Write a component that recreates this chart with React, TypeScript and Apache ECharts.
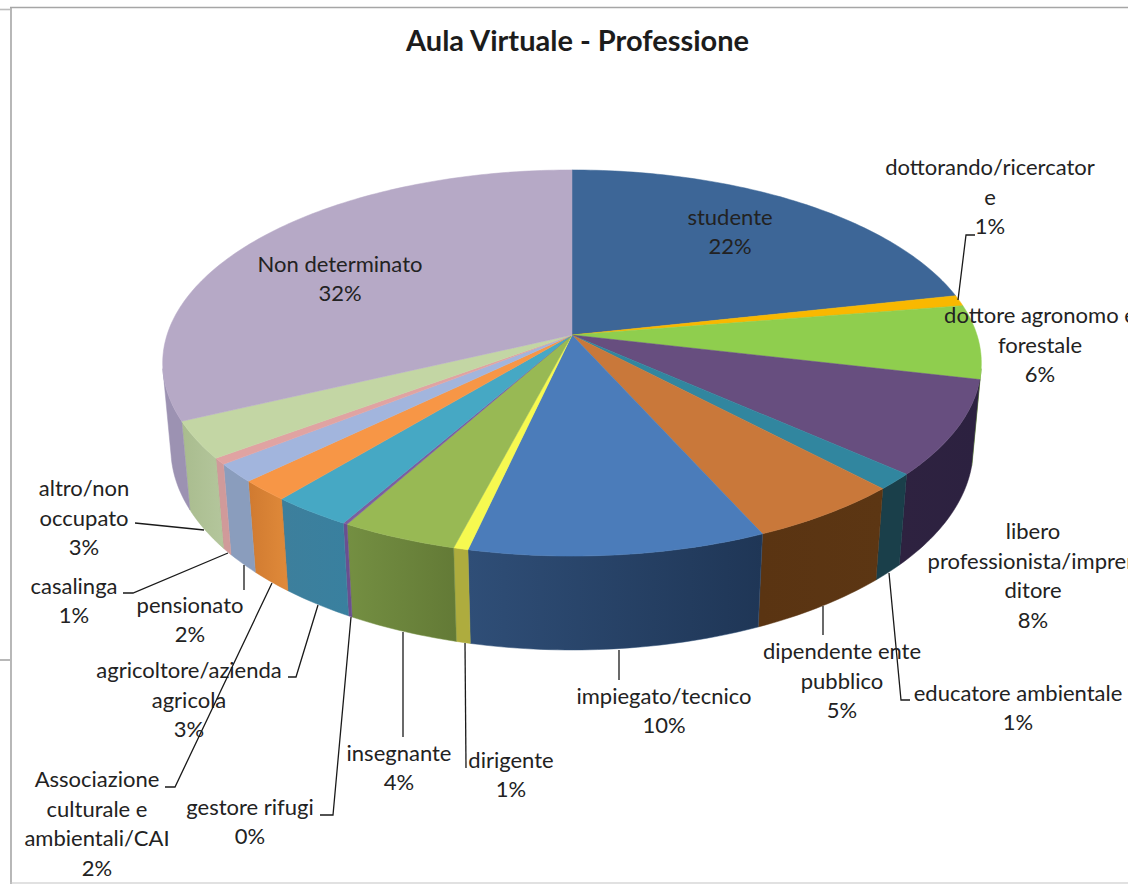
import React, { useEffect, useRef } from "react";
import * as echarts from "echarts";

const TITLE = "Aula Virtuale - Professione";
const professions = [
  "studente",
  "dottorando/ricercator\ne",
  "dottore agronomo e\nforestale",
  "libero\nprofessionista/impren\nditore",
  "educatore ambientale",
  "dipendente ente\npubblico",
  "impiegato/tecnico",
  "dirigente",
  "insegnante",
  "gestore rifugi",
  "agricoltore/azienda\nagricola",
  "Associazione\nculturale e\nambientali/CAI",
  "pensionato",
  "casalinga",
  "altro/non\noccupato",
  "Non determinato",
];
const shares = [21.56, 0.9, 6.2, 7.93, 1.37, 5.35, 10.23, 0.5, 4.02, 0.15, 2.78, 1.77, 1.55, 0.54, 3.11, 32.04];

const topColors = ["#3d6697", "#f9b800", "#8fce4e", "#674e7f", "#31869f", "#c9783a", "#4b7cba", "#f6f950", "#98b954", "#7b5fa0", "#46a8c4", "#f79646", "#a2b5dd", "#e0a3a2", "#c3d6a4", "#b6a9c6"];
const wallColors = [
  ["#2f4e77", "#2f4e77"], ["#b88a00", "#b88a00"], ["#6a9a38", "#6a9a38"], ["#2e2240", "#2c2140"],
  ["#1a3f4a", "#1a3f4a"], ["#5a3412", "#5c3613"], ["#2f4e77", "#1f3656"], ["#aeac3e", "#aeac3e"],
  ["#748f42", "#637a36"], ["#6a4f90", "#6a4f90"], ["#3d7f9c", "#39809f"], ["#d07a30", "#e08a3a"],
  ["#8a9dbd", "#8a9dbd"], ["#d09a9a", "#d09a9a"], ["#a9bc8e", "#b4c69c"], ["#9c92b2", "#9c92b2"],
];
// label block centres, in page pixels
const labelCentres = [
  [730, 231], [990, 196], [1040, 344], [1033, 575], [1018, 707], [842, 680], [664, 710], [511, 774],
  [399, 767], [250, 821], [189, 699], [97, 823], [190, 619], [74, 600], [84, 517], [340, 278],
];
const leaders: (number[][] | null)[] = [
  null,
  [[958, 300], [966, 235], [975, 235]],
  null,
  null,
  [[889, 573], [901, 700], [910, 700]],
  [[823, 606], [823, 635]],
  [[619, 650], [619, 680]],
  [[465, 643], [466, 768]],
  [[403, 632], [403, 737]],
  [[351, 617], [333, 815], [320, 815]],
  [[318, 605], [296, 677], [288, 677]],
  [[272, 583], [175, 787], [165, 787]],
  [[244, 565], [244, 590]],
  [[228, 553], [133, 593], [123, 593]],
  [[204, 530], [135, 523]],
  null,
];

const CX = 572, CY = 335, RX = 405, RY = 189, PERSP = 0.145, DEPTH = 86.6, DEPTH_PERSP = 0.02;
const FONT = "Lato";
const DEG = Math.PI / 180;

function project(theta: number, z: number): number[] {
  const s = Math.sin(theta), c = Math.cos(theta);
  const d = 1 + PERSP * c + DEPTH_PERSP * z;
  return [CX + (RX * s) / d, CY + (-RY * c + DEPTH * z) / d];
}
function arc(a: number, b: number, z: number): number[][] {
  const n = Math.max(2, Math.ceil(Math.abs(b - a) / DEG));
  const out: number[][] = [];
  for (let i = 0; i <= n; i++) out.push(project(a + ((b - a) * i) / n, z));
  return out;
}

const total = shares.reduce((p, v) => p + v, 0);
function sliceAngles(i: number): number[] {
  let sum = 0;
  for (let j = 0; j < i; j++) sum += shares[j];
  return [(sum / total) * 2 * Math.PI, ((sum + shares[i]) / total) * 2 * Math.PI];
}

function renderWall(params: any) {
  const i = params.dataIndex;
  const [a0, a1] = sliceAngles(i);
  const a = Math.max(a0, 100 * DEG), b = Math.min(a1, 260 * DEG);
  if (b <= a) return { type: "group", children: [] };
  const pts = arc(a, b, 0).concat(arc(b, a, 1));
  const fill = new echarts.graphic.LinearGradient(0, 0, 1, 0, [
    { offset: 0, color: wallColors[i][0] },
    { offset: 1, color: wallColors[i][1] },
  ]);
  return { type: "polygon", shape: { points: pts }, style: { fill, stroke: wallColors[i][0], lineWidth: 0.5 }, silent: true };
}
function renderTop(params: any) {
  const i = params.dataIndex;
  const [a0, a1] = sliceAngles(i);
  const pts = [[CX, CY]].concat(arc(a0, a1, 0));
  return { type: "polygon", shape: { points: pts }, style: { fill: topColors[i], stroke: topColors[i], lineWidth: 0.5 }, silent: true };
}
function renderLabel(params: any) {
  const i = params.dataIndex;
  const children: any[] = [];
  const leader = leaders[i];
  if (leader) {
    children.push({ type: "polyline", shape: { points: leader }, style: { stroke: "#1a1a1a", lineWidth: 1.3, fill: "none" }, silent: true });
  }
  children.push({
    type: "text",
    x: labelCentres[i][0],
    y: labelCentres[i][1],
    style: {
      text: professions[i] + "\n" + Math.round(shares[i]) + "%",
      fill: "#222222",
      font: `22px ${FONT}`,
      lineHeight: 29.5,
      align: "center",
      verticalAlign: "middle",
    },
    silent: true,
  });
  return { type: "group", children };
}

export default function App() {
  const ref = useRef<HTMLDivElement>(null);
  useEffect(() => {
    const chart = echarts.init(ref.current!, undefined, { renderer: "svg" });
    const data = shares.map((v, i) => ({ name: professions[i], value: v }));
    chart.setOption({
      animation: false,
      backgroundColor: "#ffffff",
      title: {
        text: TITLE,
        left: 401,
        top: 20,
        textStyle: { fontFamily: FONT, fontWeight: "bold", fontSize: 29, color: "#1c1c1c" },
      },
      graphic: [
        { type: "line", shape: { x1: 10, y1: 7.5, x2: 1128, y2: 7.5 }, style: { stroke: "#a6a6a6", lineWidth: 1.6 }, silent: true },
        { type: "line", shape: { x1: 11, y1: 7, x2: 11, y2: 884 }, style: { stroke: "#a6a6a6", lineWidth: 1.6 }, silent: true },
        { type: "line", shape: { x1: 0, y1: 9.5, x2: 10, y2: 9.5 }, style: { stroke: "#bdbdbd", lineWidth: 1.6 }, silent: true },
        { type: "line", shape: { x1: 0, y1: 660, x2: 10, y2: 660 }, style: { stroke: "#a6a6a6", lineWidth: 1.6 }, silent: true },
        { type: "line", shape: { x1: 10, y1: 883, x2: 1128, y2: 883 }, style: { stroke: "#c4c4c4", lineWidth: 1.2 }, silent: true },
      ],
      series: [
        { type: "custom", coordinateSystem: "none", renderItem: renderWall, data, silent: true, z: 1 },
        { type: "custom", coordinateSystem: "none", renderItem: renderTop, data, silent: true, z: 2 },
        { type: "custom", coordinateSystem: "none", renderItem: renderLabel, data, silent: true, z: 3 },
      ],
    });
    return () => chart.dispose();
  }, []);
  return <div ref={ref} style={{ position: "fixed", left: 0, top: 0, width: 1128, height: 884 }} />;
}
